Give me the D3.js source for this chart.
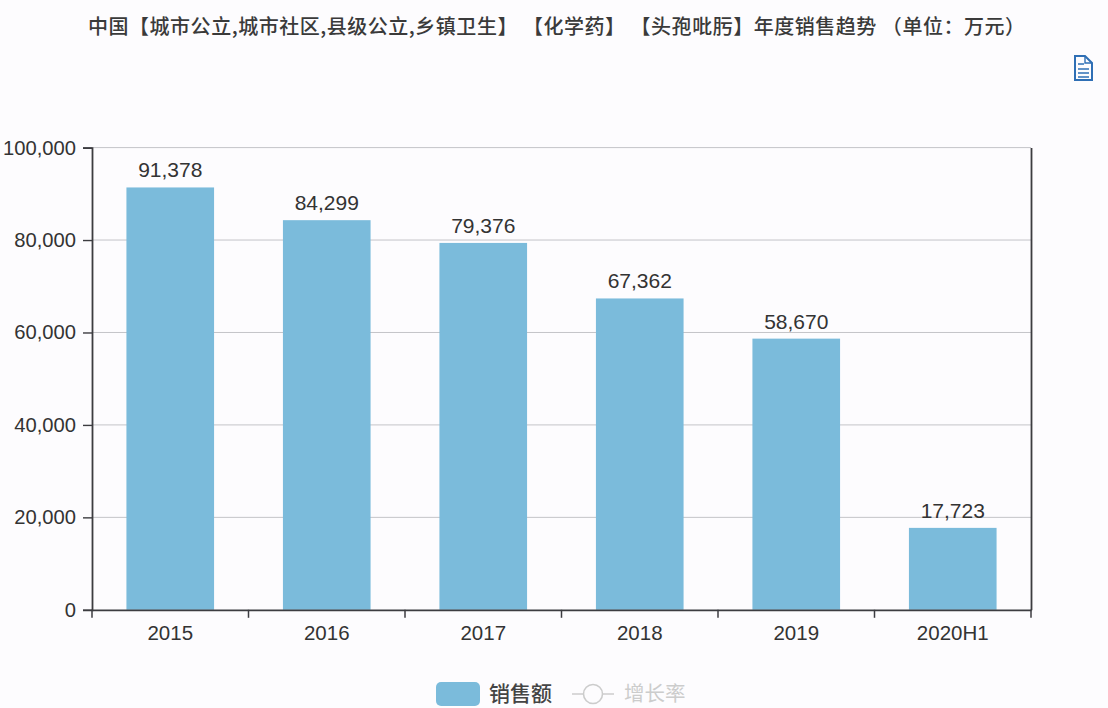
<!DOCTYPE html>
<html>
<head>
<meta charset="utf-8">
<script src="https://cdn.jsdelivr.net/npm/d3@7"></script>
<style>
  html, body { margin: 0; padding: 0; background: #fdfcfe; }
  svg { display: block; }
  text { font-family: "Liberation Sans", Arial, sans-serif; fill: #333; }
  .cjk { font-family: "Noto Sans CJK SC", sans-serif; }
</style>
</head>
<body>
<svg id="chart" width="1108" height="708"></svg>
<script>
const titleText = "中国【城市公立,城市社区,县级公立,乡镇卫生】 【化学药】 【头孢吡肟】年度销售趋势 （单位：万元）";
const categories = ["2015", "2016", "2017", "2018", "2019", "2020H1"];
const salesValues = [91378, 84299, 79376, 67362, 58670, 17723];
const yTicks = [0, 20000, 40000, 60000, 80000, 100000];
const legendLabels = ["销售额", "增长率"];

const plotLeft = 92, plotRight = 1031, plotTop = 147.6, plotBottom = 609.8;
const axisColor = "#3c3c40";
const fmt = d3.format(",");
const svg = d3.select("#chart");

const x = d3.scaleBand().domain(categories).range([plotLeft, plotRight]).paddingInner(0.44).paddingOuter(0.22);
const y = d3.scaleLinear().domain([0, 100000]).range([plotBottom, plotTop]);

// title
svg.append("text")
  .attr("class", "cjk")
  .attr("x", 88)
  .attr("y", 34)
  .attr("textLength", 937)
  .attr("lengthAdjust", "spacing")
  .style("font-size", "20px")
  .style("font-weight", 500)
  .style("fill", "#3a3a3a")
  .text(titleText);

// gridlines
svg.append("g")
  .selectAll("line")
  .data(yTicks.filter((d) => d > 0))
  .enter()
  .append("line")
  .attr("x1", plotLeft)
  .attr("x2", plotRight)
  .attr("y1", (d) => y(d))
  .attr("y2", (d) => y(d))
  .attr("stroke", "#c4c4c8")
  .attr("stroke-width", 1);

// bars
svg.selectAll(".bar")
  .data(salesValues)
  .enter()
  .append("rect")
  .classed("bar", true)
  .attr("x", (d, i) => x(categories[i]))
  .attr("y", (d) => y(d))
  .attr("width", x.bandwidth())
  .attr("height", (d) => plotBottom - y(d))
  .attr("fill", "#7bbbdb");

// bar labels
svg.selectAll(".bar-label")
  .data(salesValues)
  .enter()
  .append("text")
  .classed("bar-label", true)
  .attr("x", (d, i) => x(categories[i]) + x.bandwidth() / 2)
  .attr("y", (d) => y(d) - 10)
  .attr("text-anchor", "middle")
  .style("font-size", "21px")
  .text((d) => fmt(d));

// axes
const yAxis = d3.axisLeft(y).tickValues(yTicks).tickFormat(fmt).tickSize(9).tickPadding(7);
const yG = svg.append("g").attr("transform", `translate(${plotLeft},0)`).call(yAxis);
yG.select(".domain").attr("stroke", axisColor).attr("stroke-width", 1.8);
yG.selectAll(".tick line").attr("stroke", axisColor).attr("stroke-width", 1.4);
yG.selectAll("text").style("font-size", "20.2px").style("font-family", "Liberation Sans").style("fill", "#333");

// right axis, no labels
const yRight = d3.axisRight(y).tickValues([]).tickSize(0);
const rG = svg.append("g").attr("transform", `translate(${plotRight},0)`).call(yRight);
rG.select(".domain").attr("stroke", axisColor).attr("stroke-width", 1.8);

// x axis: ticks on band boundaries
const xAxis = d3.axisBottom(x).tickSize(0).tickPadding(16);
const xG = svg.append("g").attr("transform", `translate(0,${plotBottom})`).call(xAxis);
xG.select(".domain").attr("stroke", axisColor).attr("stroke-width", 1.8);
xG.selectAll("text").style("font-size", "20.5px").style("font-family", "Liberation Sans").style("fill", "#333");

svg.append("g")
  .selectAll("line")
  .data(d3.range(categories.length + 1))
  .enter()
  .append("line")
  .attr("x1", (i) => plotLeft + i * (plotRight - plotLeft) / categories.length)
  .attr("x2", (i) => plotLeft + i * (plotRight - plotLeft) / categories.length)
  .attr("y1", plotBottom)
  .attr("y2", plotBottom + 8)
  .attr("stroke", axisColor)
  .attr("stroke-width", 1.5);

// legend
const legend = svg.append("g");
legend.append("rect")
  .attr("x", 436).attr("y", 682)
  .attr("width", 44).attr("height", 24).attr("rx", 5)
  .attr("fill", "#7bbbdb");
legend.append("text")
  .attr("class", "cjk")
  .attr("x", 489).attr("y", 701)
  .style("font-size", "21px")
  .style("font-weight", 500)
  .style("fill", "#444")
  .text(legendLabels[0]);
legend.append("line")
  .attr("x1", 572).attr("x2", 614).attr("y1", 694).attr("y2", 694)
  .attr("stroke", "#ccc").attr("stroke-width", 1.6);
legend.append("circle")
  .attr("cx", 593).attr("cy", 694).attr("r", 9.5)
  .attr("fill", "#fdfcfe").attr("stroke", "#ccc").attr("stroke-width", 1.6);
legend.append("text")
  .attr("class", "cjk")
  .attr("x", 624).attr("y", 701)
  .style("font-size", "20.5px")
  .style("fill", "#ccc")
  .text(legendLabels[1]);

// data view icon
const icon = svg.append("g").attr("transform", "translate(1074,55)")
  .attr("fill", "none").attr("stroke", "#2f6fb5").attr("stroke-width", 2);
icon.append("path").attr("d", "M1,1 H11 L18,8 V25 H1 Z");
icon.append("path").attr("d", "M11,1 V8 H18").attr("stroke-width", 1.4);
icon.append("path").attr("d", "M4,9 H10 M4,14 H15 M4,18 H15 M4,22 H15").attr("stroke-width", 1.6);
</script>
</body>
</html>
